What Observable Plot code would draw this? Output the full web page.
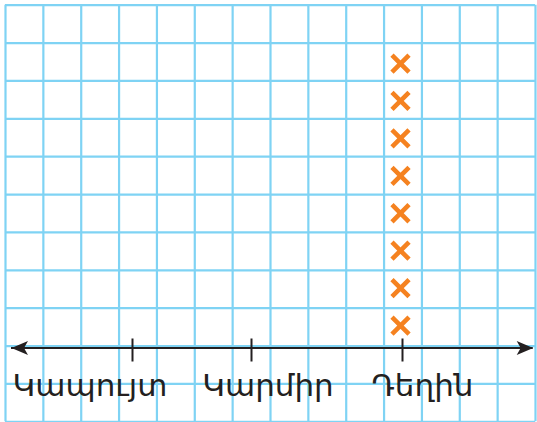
<!DOCTYPE html>
<html>
<head>
<meta charset="utf-8">
<script src="https://cdn.jsdelivr.net/npm/d3@7"></script>
<script src="https://cdn.jsdelivr.net/npm/@observablehq/plot@0.6"></script>
<style>
  html, body { margin: 0; padding: 0; background: #ffffff; }
  #chart { position: relative; width: 537px; height: 422px; overflow: hidden; }
  #chart svg { position: absolute; left: 0; top: 0; }
</style>
</head>
<body>
<div id="chart"></div>
<script>
// ---- data ----
const categories = ["Կապույտ", "Կարմիր", "Դեղին"];
const counts = [0, 0, 8];

// ---- layout / style config ----
const W = 537, H = 422;
const gridColor = "#7FD3F4";
const ink = "#231F20";
const orange = "#F58220";
const labelDx = [-42.5, 16.5, 20];   // label offset from tick (px)
const axisValue = 0.4;               // baseline of the stacked plot in y units

// one row per cross mark
const rows = categories.flatMap((c, i) =>
  d3.range(1, counts[i] + 1).map(k => ({cat: c, i, k}))
);

// ---- grid paper background ----
const grid = Plot.plot({
  width: W, height: H, margin: 0,
  x: {domain: [0, 14], range: [5, 535], axis: null},
  y: {domain: [0, 11], range: [4.7, 421.3], axis: null},
  marks: [
    Plot.ruleX(d3.range(15), {y1: 0, y2: 11, stroke: gridColor, strokeWidth: 2.2}),
    Plot.ruleY(d3.range(12), {x1: 0, x2: 14, stroke: gridColor, strokeWidth: 2.2})
  ]
});

// arrowhead symbol, tip at origin pointing left
const arrowHead = {
  draw(ctx) {
    ctx.moveTo(0, 0);
    ctx.lineTo(16.5, -7);
    ctx.lineTo(12.5, 0);
    ctx.lineTo(16.5, 7);
    ctx.closePath();
  }
};

const chart = Plot.plot({
  width: W, height: H,
  marginLeft: 11, marginRight: 4.3, marginTop: 25.6, marginBottom: 74.5,
  style: {background: "transparent", overflow: "visible"},
  x: {type: "linear", domain: [0, 1, 2], range: [132, 251, 402], axis: null},
  y: {domain: [axisValue, 9], axis: null},
  marks: [
    // number line
    Plot.ruleY([axisValue], {stroke: ink, strokeWidth: 2}),
    Plot.dot([0], {y: () => axisValue, frameAnchor: "left", symbol: arrowHead, fill: ink, stroke: "none"}),
    Plot.dot([0], {y: () => axisValue, frameAnchor: "right", symbol: arrowHead, rotate: 180, fill: ink, stroke: "none"}),
    // ticks
    Plot.ruleX(categories.map((c, i) => i), {
      x: d => d, y1: () => axisValue, y2: () => axisValue,
      insetTop: -9, insetBottom: -14, stroke: ink, strokeWidth: 2
    }),
    // tick labels
    ...categories.map((c, i) => Plot.text([i], {
      x: d => d, y: () => axisValue, text: d => categories[d],
      dx: labelDx[i], dy: 48, lineAnchor: "bottom", textAnchor: "middle",
      fontSize: 31, fontFamily: "DejaVu Sans", fill: ink
    })),
    // crosses
    Plot.dot(rows, {x: "i", y: "k", dx: -2, symbol: "times", r: 7.8, stroke: orange, strokeWidth: 4.6})
  ]
});

document.getElementById("chart").append(grid, chart);
</script>
</body>
</html>
